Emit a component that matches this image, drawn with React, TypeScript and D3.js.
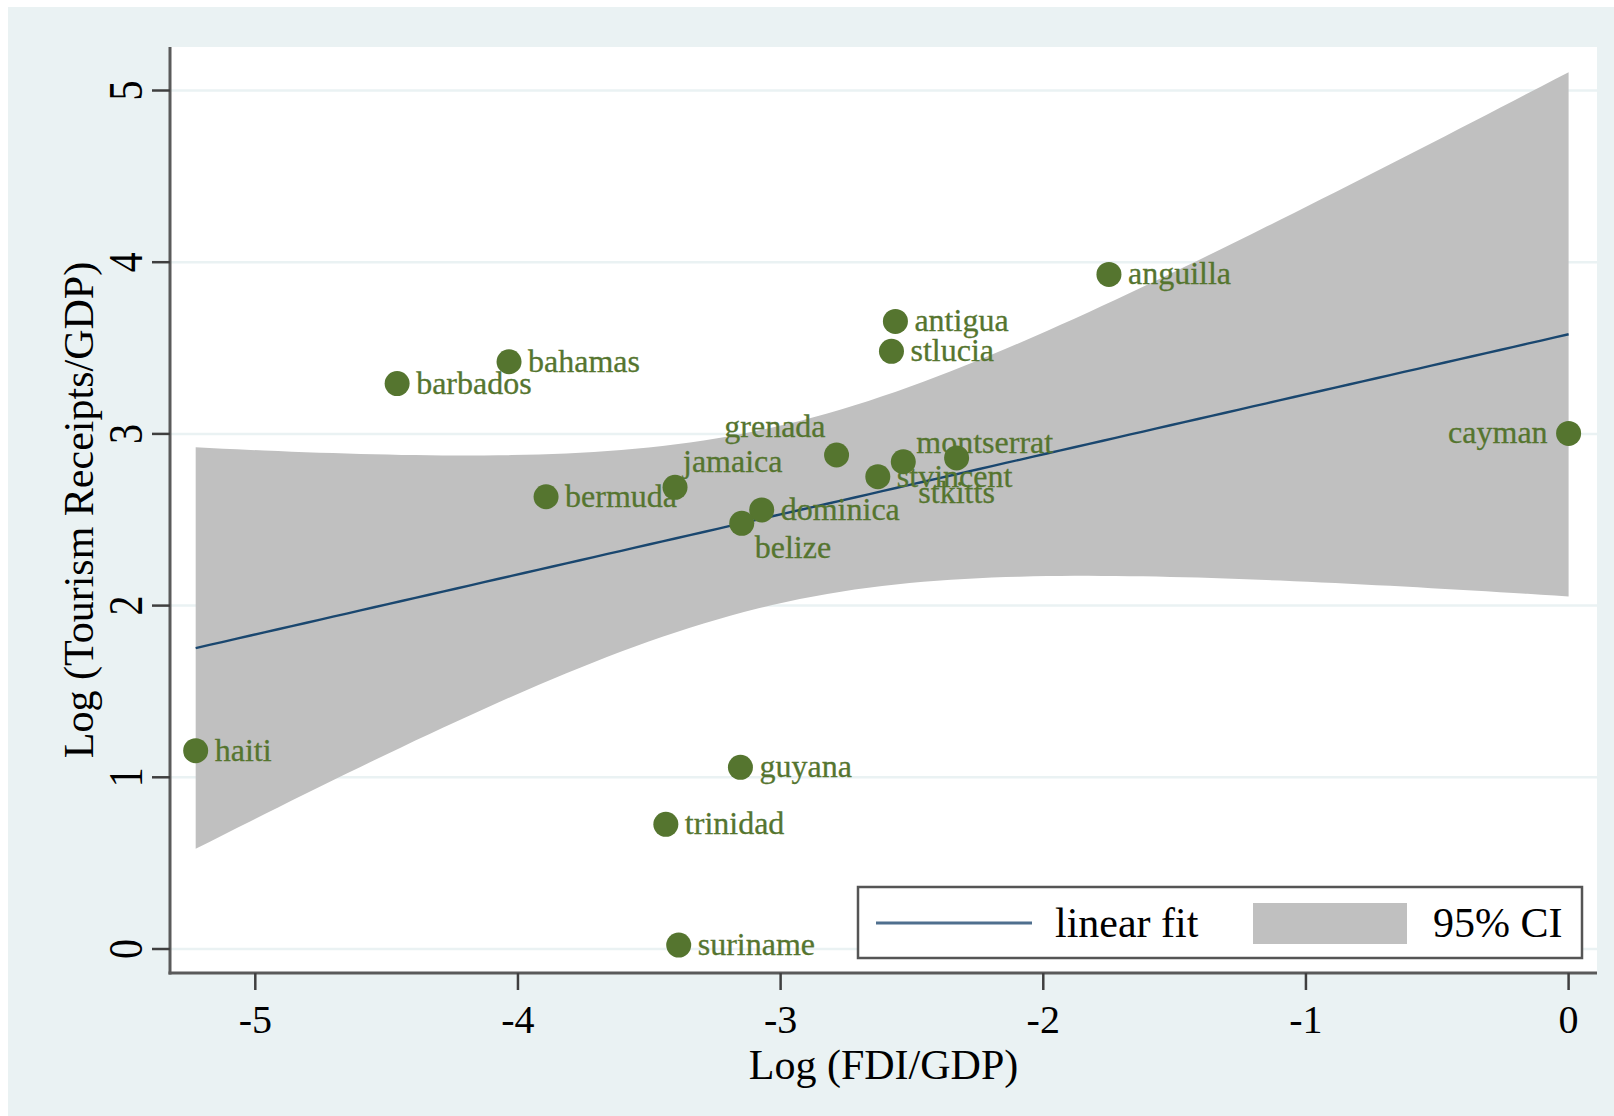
import React from 'react';
import * as d3 from 'd3';

// Caribbean economies: log FDI/GDP vs log tourism receipts/GDP
const countries = [
  'anguilla', 'antigua', 'stlucia', 'bahamas', 'barbados', 'grenada',
  'stkitts', 'montserrat', 'stvincent', 'jamaica', 'bermuda', 'dominica',
  'belize', 'cayman', 'haiti', 'guyana', 'trinidad', 'suriname'
];
const logFdi = [
  -1.75, -2.563, -2.578, -4.034, -4.46, -2.787,
  -2.33, -2.533, -2.63, -3.402, -3.893, -3.072,
  -3.148, 0, -5.227, -3.153, -3.437, -3.388
];
const logTourism = [
  3.929, 3.655, 3.481, 3.42, 3.293, 2.877,
  2.86, 2.838, 2.751, 2.689, 2.634, 2.557,
  2.479, 3.003, 1.155, 1.058, 0.726, 0.023
];
// marker label clock positions (Stata mlabvposition)
const labelPos = [3, 3, 3, 3, 3, 11, 6, 2, 3, 1, 3, 3, 5, 9, 3, 3, 3, 3];

const xTicks = [-5, -4, -3, -2, -1, 0];
const yTicks = [0, 1, 2, 3, 4, 5];
const legendLabels = ['linear fit', '95% CI'];
const xTitle = 'Log (FDI/GDP)';
const yTitle = 'Log (Tourism Receipts/GDP)';

const T_CRIT = 2.1199; // t(0.975, df = 16)

const FONT = '"Liberation Serif", "Times New Roman", serif';
const GREEN = '#55752F';
const NAVY = '#1A476F';
const BG = '#EAF2F3';

// label offsets for each clock position: [dx, dy(baseline), anchor]
const clockOffsets: Record<number, [number, number, string]> = {
  1: [8, -15.5, 'start'],
  2: [13, -8.5, 'start'],
  3: [19, 10, 'start'],
  5: [13, 35, 'start'],
  6: [0, 45, 'middle'],
  9: [-21, 10, 'end'],
  11: [-11, -18, 'end']
};

export default function App() {
  const width = 1614;
  const height = 1116;
  const plot = { left: 170, top: 47, right: 1597, bottom: 973 };

  const x = d3.scaleLinear().domain([-5, 0]).range([255.3, 1568.6]);
  const y = d3.scaleLinear().domain([0, 5]).range([949, 90.5]);

  // linear fit with confidence interval of the mean prediction
  const n = logFdi.length;
  const mx = d3.mean(logFdi) as number;
  const my = d3.mean(logTourism) as number;
  let sxx = 0;
  let sxy = 0;
  logFdi.forEach((v, i) => {
    sxx += (v - mx) * (v - mx);
    sxy += (v - mx) * (logTourism[i] - my);
  });
  const slope = sxy / sxx;
  const intercept = my - slope * mx;
  let sse = 0;
  logFdi.forEach((v, i) => {
    const r = logTourism[i] - (intercept + slope * v);
    sse += r * r;
  });
  const s = Math.sqrt(sse / (n - 2));

  const [xmin, xmax] = d3.extent(logFdi) as [number, number];
  const grid = d3.range(0, 101).map(k => xmin + (k / 100) * (xmax - xmin));
  const band = grid.map(v => {
    const fit = intercept + slope * v;
    const half = T_CRIT * s * Math.sqrt(1 / n + ((v - mx) * (v - mx)) / sxx);
    return { x: v, fit, lo: fit - half, hi: fit + half };
  });

  const area = d3.area<{ x: number; lo: number; hi: number }>()
    .x(d => x(d.x))
    .y0(d => y(d.lo))
    .y1(d => y(d.hi));
  const line = d3.line<{ x: number; fit: number }>()
    .x(d => x(d.x))
    .y(d => y(d.fit));

  const midX = (plot.left + plot.right) / 2;
  const midY = (plot.top + plot.bottom) / 2;

  return (
    <div style={{ position: 'absolute', left: 0, top: 0 }}>
      <svg width={width} height={height} style={{ display: 'block' }}>
        <rect x={8} y={7} width={width - 8} height={height - 7} fill={BG} />
        <rect
          x={plot.left}
          y={plot.top}
          width={plot.right - plot.left}
          height={plot.bottom - plot.top}
          fill="#FFFFFF"
        />

        {/* Gridlines */}
        {yTicks.map(t => (
          <line
            key={`grid-${t}`}
            x1={plot.left}
            x2={plot.right}
            y1={y(t)}
            y2={y(t)}
            stroke={BG}
            strokeWidth={2.5}
          />
        ))}

        {/* CI band and fit */}
        <path d={area(band) || ''} fill="#C0C0C0" />
        <path d={line(band) || ''} fill="none" stroke={NAVY} strokeWidth={2.4} />

        {/* Points */}
        {countries.map((c, i) => (
          <circle
            key={`pt-${c}`}
            cx={x(logFdi[i])}
            cy={y(logTourism[i])}
            r={12.5}
            fill={GREEN}
          />
        ))}

        {/* Point labels */}
        {countries.map((c, i) => {
          const [dx, dy, anchor] = clockOffsets[labelPos[i]];
          return (
            <text
              key={`lab-${c}`}
              x={x(logFdi[i]) + dx}
              y={y(logTourism[i]) + dy}
              fill={GREEN}
              stroke={GREEN}
              strokeWidth={0.3}
              fontSize={32}
              fontFamily={FONT}
              textAnchor={anchor}
            >
              {c}
            </text>
          );
        })}

        {/* Axes */}
        <line x1={plot.left} x2={plot.left} y1={plot.top} y2={plot.bottom + 1.5} stroke="#5A5A5A" strokeWidth={3} />
        <line x1={plot.left - 1.5} x2={plot.right} y1={plot.bottom} y2={plot.bottom} stroke="#5A5A5A" strokeWidth={3} />

        {yTicks.map(t => (
          <g key={`yt-${t}`}>
            <line x1={plot.left - 18} x2={plot.left} y1={y(t)} y2={y(t)} stroke="#3F3F3F" strokeWidth={2.5} />
            <text
              transform={`translate(142,${y(t)}) rotate(-90) scale(1,1.2)`}
              textAnchor="middle"
              fontSize={40}
              fontFamily={FONT}
              fill="#000"
            >
              {t}
            </text>
          </g>
        ))}

        {xTicks.map(t => (
          <g key={`xt-${t}`}>
            <line x1={x(t)} x2={x(t)} y1={plot.bottom} y2={plot.bottom + 17} stroke="#3F3F3F" strokeWidth={2.5} />
            <text
              x={x(t)}
              y={1033}
              textAnchor="middle"
              fontSize={40}
              fontFamily={FONT}
              fill="#000"
            >
              {t}
            </text>
          </g>
        ))}

        {/* Axis titles */}
        <text x={midX} y={1079} textAnchor="middle" fontSize={42} fontFamily={FONT} fill="#000">
          {xTitle}
        </text>
        <text
          transform={`translate(93,${midY}) rotate(-90)`}
          textAnchor="middle"
          fontSize={42}
          fontFamily={FONT}
          fill="#000"
        >
          {yTitle}
        </text>

        {/* Legend */}
        <g>
          <rect x={858} y={887} width={724} height={71} fill="#FFFFFF" stroke="#555555" strokeWidth={2.5} />
          <line x1={876} x2={1032} y1={923} y2={923} stroke="#4F6F8E" strokeWidth={3} />
          <text x={1055} y={937} fontSize={42} fontFamily={FONT} fill="#000">
            {legendLabels[0]}
          </text>
          <rect x={1253} y={903} width={154} height={41} fill="#C0C0C0" />
          <text x={1433} y={937} fontSize={42} fontFamily={FONT} fill="#000">
            {legendLabels[1]}
          </text>
        </g>
      </svg>
    </div>
  );
}
